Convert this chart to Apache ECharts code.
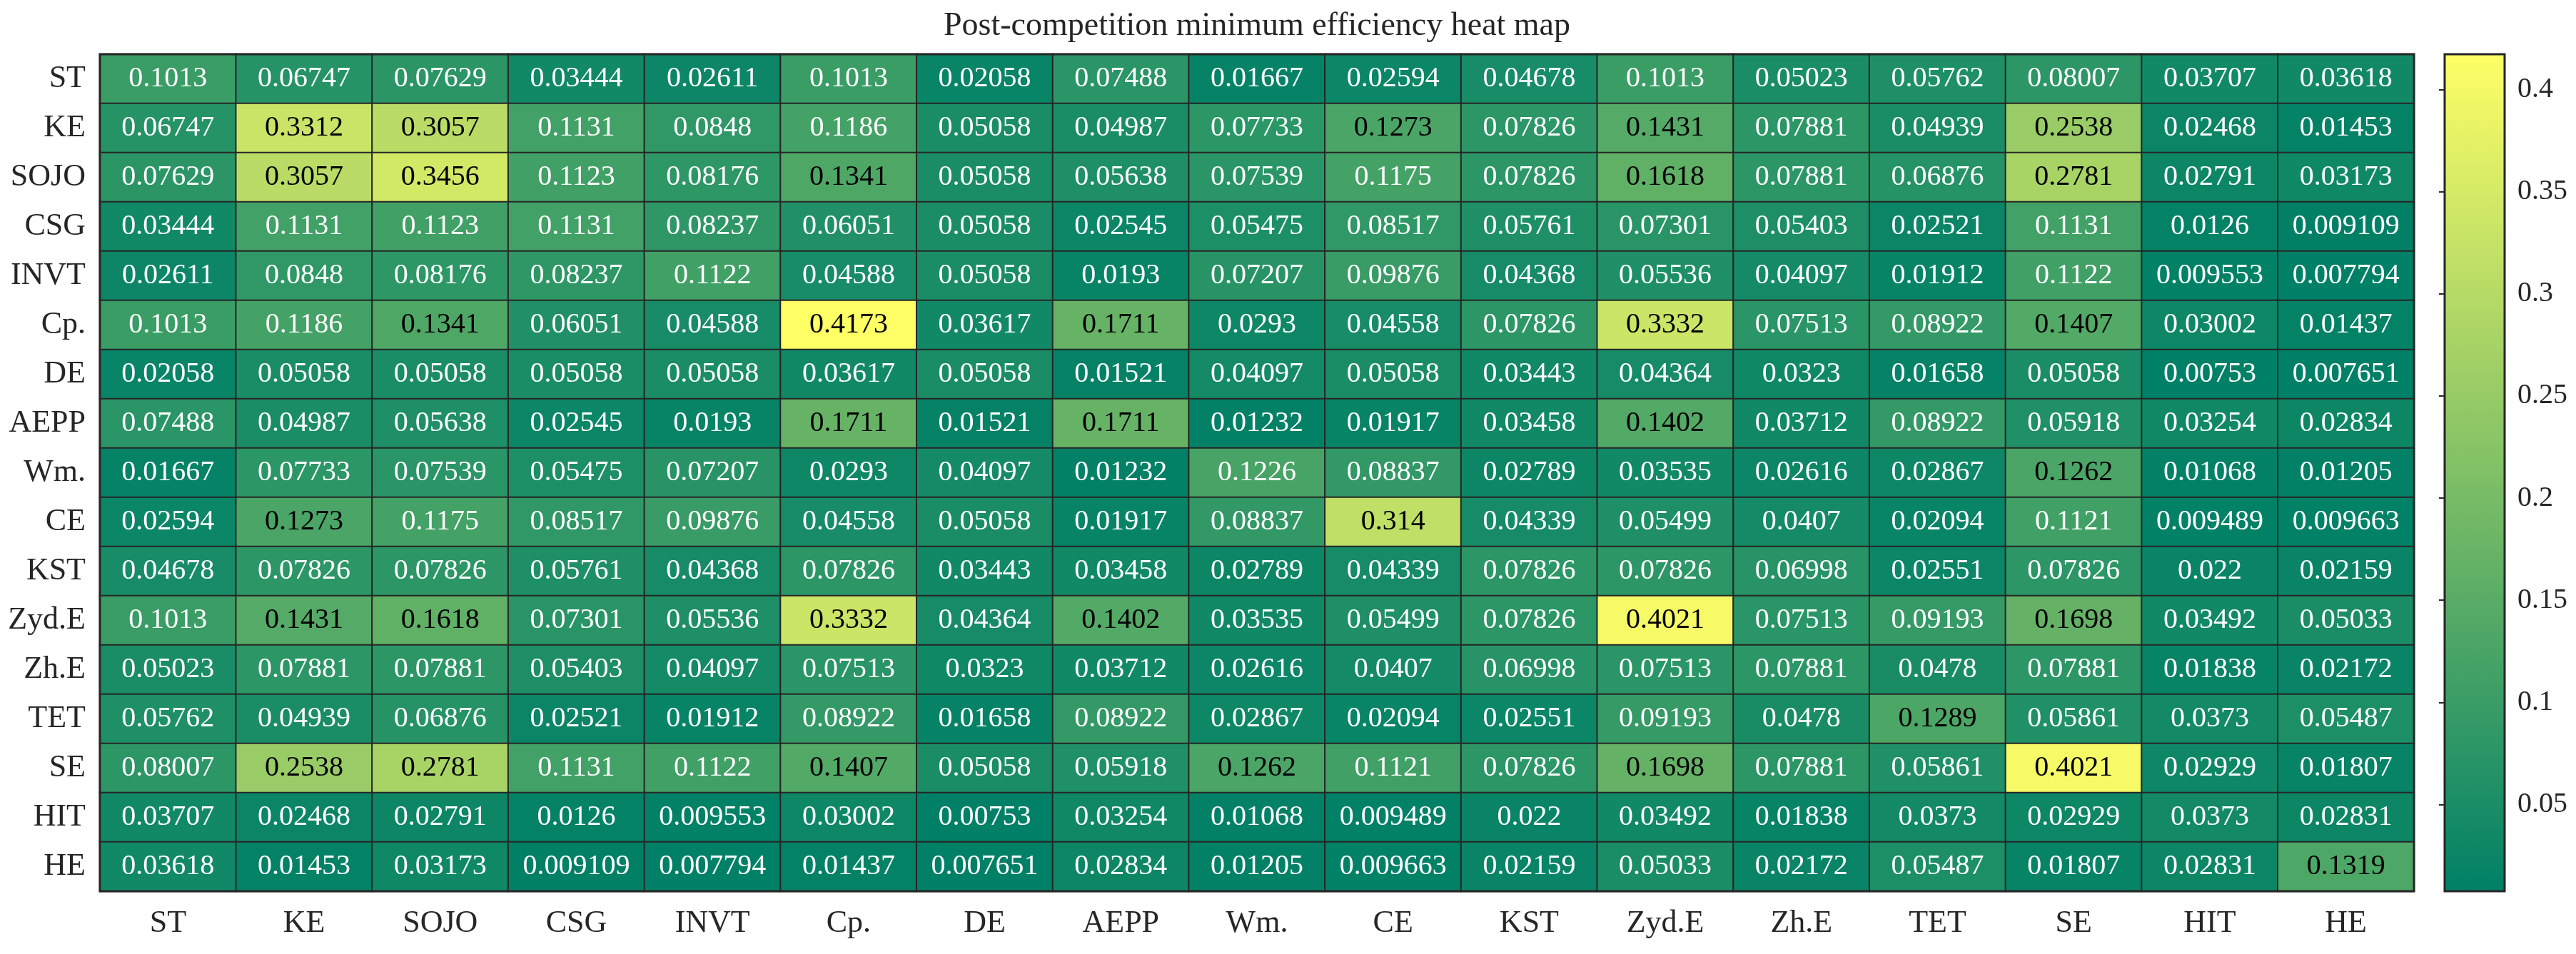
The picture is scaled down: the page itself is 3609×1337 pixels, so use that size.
<!DOCTYPE html>
<html>
<head>
<meta charset="utf-8">
<script src="https://cdn.jsdelivr.net/npm/echarts@6/dist/echarts.min.js"></script>
<style>
  html, body { margin: 0; padding: 0; background: #fff; }
  #chart { width: 3609px; height: 1337px; }
</style>
</head>
<body>
<div id="chart"></div>
<script>
const categories = ['ST','KE','SOJO','CSG','INVT','Cp.','DE','AEPP','Wm.','CE','KST','Zyd.E','Zh.E','TET','SE','HIT','HE'];

const rowST   = [0.1013, 0.06747, 0.07629, 0.03444, 0.02611, 0.1013, 0.02058, 0.07488, 0.01667, 0.02594, 0.04678, 0.1013, 0.05023, 0.05762, 0.08007, 0.03707, 0.03618];
const rowKE   = [0.06747, 0.3312, 0.3057, 0.1131, 0.0848, 0.1186, 0.05058, 0.04987, 0.07733, 0.1273, 0.07826, 0.1431, 0.07881, 0.04939, 0.2538, 0.02468, 0.01453];
const rowSOJO = [0.07629, 0.3057, 0.3456, 0.1123, 0.08176, 0.1341, 0.05058, 0.05638, 0.07539, 0.1175, 0.07826, 0.1618, 0.07881, 0.06876, 0.2781, 0.02791, 0.03173];
const rowCSG  = [0.03444, 0.1131, 0.1123, 0.1131, 0.08237, 0.06051, 0.05058, 0.02545, 0.05475, 0.08517, 0.05761, 0.07301, 0.05403, 0.02521, 0.1131, 0.0126, 0.009109];
const rowINVT = [0.02611, 0.0848, 0.08176, 0.08237, 0.1122, 0.04588, 0.05058, 0.0193, 0.07207, 0.09876, 0.04368, 0.05536, 0.04097, 0.01912, 0.1122, 0.009553, 0.007794];
const rowCp   = [0.1013, 0.1186, 0.1341, 0.06051, 0.04588, 0.4173, 0.03617, 0.1711, 0.0293, 0.04558, 0.07826, 0.3332, 0.07513, 0.08922, 0.1407, 0.03002, 0.01437];
const rowDE   = [0.02058, 0.05058, 0.05058, 0.05058, 0.05058, 0.03617, 0.05058, 0.01521, 0.04097, 0.05058, 0.03443, 0.04364, 0.0323, 0.01658, 0.05058, 0.00753, 0.007651];
const rowAEPP = [0.07488, 0.04987, 0.05638, 0.02545, 0.0193, 0.1711, 0.01521, 0.1711, 0.01232, 0.01917, 0.03458, 0.1402, 0.03712, 0.08922, 0.05918, 0.03254, 0.02834];
const rowWm   = [0.01667, 0.07733, 0.07539, 0.05475, 0.07207, 0.0293, 0.04097, 0.01232, 0.1226, 0.08837, 0.02789, 0.03535, 0.02616, 0.02867, 0.1262, 0.01068, 0.01205];
const rowCE   = [0.02594, 0.1273, 0.1175, 0.08517, 0.09876, 0.04558, 0.05058, 0.01917, 0.08837, 0.314, 0.04339, 0.05499, 0.0407, 0.02094, 0.1121, 0.009489, 0.009663];
const rowKST  = [0.04678, 0.07826, 0.07826, 0.05761, 0.04368, 0.07826, 0.03443, 0.03458, 0.02789, 0.04339, 0.07826, 0.07826, 0.06998, 0.02551, 0.07826, 0.022, 0.02159];
const rowZydE = [0.1013, 0.1431, 0.1618, 0.07301, 0.05536, 0.3332, 0.04364, 0.1402, 0.03535, 0.05499, 0.07826, 0.4021, 0.07513, 0.09193, 0.1698, 0.03492, 0.05033];
const rowZhE  = [0.05023, 0.07881, 0.07881, 0.05403, 0.04097, 0.07513, 0.0323, 0.03712, 0.02616, 0.0407, 0.06998, 0.07513, 0.07881, 0.0478, 0.07881, 0.01838, 0.02172];
const rowTET  = [0.05762, 0.04939, 0.06876, 0.02521, 0.01912, 0.08922, 0.01658, 0.08922, 0.02867, 0.02094, 0.02551, 0.09193, 0.0478, 0.1289, 0.05861, 0.0373, 0.05487];
const rowSE   = [0.08007, 0.2538, 0.2781, 0.1131, 0.1122, 0.1407, 0.05058, 0.05918, 0.1262, 0.1121, 0.07826, 0.1698, 0.07881, 0.05861, 0.4021, 0.02929, 0.01807];
const rowHIT  = [0.03707, 0.02468, 0.02791, 0.0126, 0.009553, 0.03002, 0.00753, 0.03254, 0.01068, 0.009489, 0.022, 0.03492, 0.01838, 0.0373, 0.02929, 0.0373, 0.02831];
const rowHE   = [0.03618, 0.01453, 0.03173, 0.009109, 0.007794, 0.01437, 0.007651, 0.02834, 0.01205, 0.009663, 0.02159, 0.05033, 0.02172, 0.05487, 0.01807, 0.02831, 0.1319];

const colorbarTicks = [0.05, 0.1, 0.15, 0.2, 0.25, 0.3, 0.35, 0.4];

const matrix = [rowST,rowKE,rowSOJO,rowCSG,rowINVT,rowCp,rowDE,rowAEPP,rowWm,rowCE,rowKST,rowZydE,rowZhE,rowTET,rowSE,rowHIT,rowHE];

let vmin = Infinity, vmax = -Infinity;
matrix.forEach(r => r.forEach(v => { vmin = Math.min(vmin, v); vmax = Math.max(vmax, v); }));

const FONT = 'Liberation Serif';
const data = [];
matrix.forEach((row, yi) => {
  row.forEach((v, xi) => {
    data.push({
      value: [xi, yi, v],
      label: { color: v > 0.124 ? '#000000' : '#ffffff' }
    });
  });
});

const chart = echarts.init(document.getElementById('chart'), null, { renderer: 'canvas' });
chart.setOption({
  backgroundColor: '#ffffff',
  animation: false,
  title: {
    text: 'Post-competition minimum efficiency heat map',
    left: 1761,
    top: 14,
    textAlign: 'center',
    padding: 0,
    textStyle: { fontFamily: FONT, fontSize: 46, fontWeight: 'normal', color: '#262626' }
  },
  grid: [
    { left: 140, top: 76, width: 3242, height: 1173, show: true, borderColor: '#262626', borderWidth: 3, backgroundColor: 'transparent', z: 3 },
    { left: 3425, top: 76, width: 84, height: 1173, show: true, borderColor: '#262626', borderWidth: 3, backgroundColor: 'transparent', z: 10 }
  ],
  xAxis: [
    {
      type: 'category', gridIndex: 0, data: categories,
      axisLine: { show: false }, axisTick: { show: false }, splitLine: { show: false },
      axisLabel: { fontFamily: FONT, fontSize: 44, color: '#262626', margin: 23 }
    },
    { type: 'value', gridIndex: 1, show: false, min: 0, max: 1 }
  ],
  yAxis: [
    {
      type: 'category', gridIndex: 0, data: categories, inverse: true,
      axisLine: { show: false }, axisTick: { show: false }, splitLine: { show: false },
      axisLabel: { fontFamily: FONT, fontSize: 44, color: '#262626', margin: 20 }
    },
    {
      type: 'value', gridIndex: 1, position: 'right', min: vmin, max: vmax,
      axisLine: { show: false },
      splitLine: { show: false },
      axisTick: { show: true, inside: true, length: 8, customValues: colorbarTicks, lineStyle: { color: '#262626', width: 2 } },
      axisLabel: { show: true, customValues: colorbarTicks, fontFamily: FONT, fontSize: 40, color: '#262626', margin: 18,
                   formatter: v => String(Math.round(v * 100) / 100) }
    }
  ],
  visualMap: {
    type: 'continuous',
    seriesIndex: 0,
    min: vmin, max: vmax,
    calculable: false,
    hoverLink: false,
    orient: 'vertical',
    left: 3425, top: 76,
    itemWidth: 84, itemHeight: 1173,
    padding: 0,
    text: null,
    showLabel: false,
    inRange: { color: ['#008066', '#FFFF66'] }
  },
  series: [{
    type: 'heatmap',
    xAxisIndex: 0, yAxisIndex: 0,
    data: data,
    label: {
      show: true,
      fontFamily: FONT,
      fontSize: 40,
      formatter: p => String(p.value[2])
    },
    itemStyle: { borderColor: '#262626', borderWidth: 2 },
    emphasis: { disabled: true }
  }]
});
</script>
</body>
</html>
